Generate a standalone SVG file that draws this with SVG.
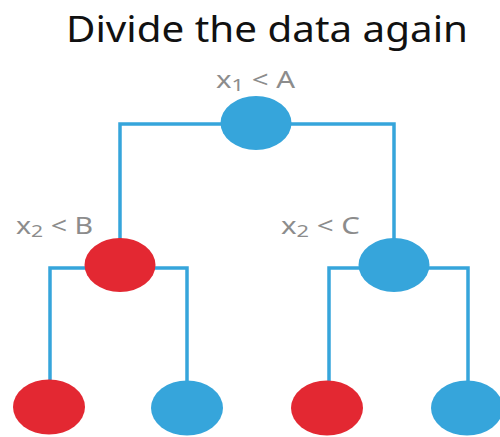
<svg xmlns="http://www.w3.org/2000/svg" width="500" height="437" viewBox="0 0 500 437">
<style>
.edge{fill:none;stroke:#36A5DB;stroke-width:3.5;stroke-linecap:square}
.blue{fill:#36A5DB}
.red{fill:#E32832}
.lbl{font-family:"Noto Sans","Lato",sans-serif;font-size:23px;fill:#8C8C8C}
.sub{font-size:17px}
.title{font-family:"Noto Sans","Lato",sans-serif;font-size:37px;fill:#111}
</style>
<rect width="500" height="437" fill="#fff"/>
<text class="title" x="66" y="42" textLength="402" lengthAdjust="spacingAndGlyphs">Divide the data again</text>
<g id="edges">
<path class="edge" d="M120,124 H394 M120,124 V245 M394,124 V245"/>
<path class="edge" d="M50,268 H187 M50,268 V385 M187,268 V385"/>
<path class="edge" d="M329,268 H468 M329,268 V385 M468,268 V385"/>
</g>
<g id="n_root"><ellipse class="blue" cx="256" cy="123" rx="35.5" ry="27"/><text class="lbl" x="216" y="88" textLength="79" lengthAdjust="spacingAndGlyphs">x<tspan class="sub" dy="3">1</tspan><tspan dy="-3"> &lt; A</tspan></text></g>
<g id="n_b"><ellipse class="red" cx="120" cy="265" rx="35.5" ry="27"/><text class="lbl" x="16" y="234" textLength="77" lengthAdjust="spacingAndGlyphs">x<tspan class="sub" dy="3">2</tspan><tspan dy="-3"> &lt; B</tspan></text></g>
<g id="n_c"><ellipse class="blue" cx="394" cy="265" rx="35.5" ry="27"/><text class="lbl" x="281" y="234" textLength="79" lengthAdjust="spacingAndGlyphs">x<tspan class="sub" dy="3">2</tspan><tspan dy="-3"> &lt; C</tspan></text></g>
<g id="leaf1"><ellipse class="red" cx="49" cy="407" rx="36" ry="27.5"/></g>
<g id="leaf2"><ellipse class="blue" cx="187" cy="408" rx="36" ry="27.5"/></g>
<g id="leaf3"><ellipse class="red" cx="327" cy="408" rx="36" ry="27.5"/></g>
<g id="leaf4"><ellipse class="blue" cx="467" cy="408" rx="36" ry="27.5"/></g>
</svg>
